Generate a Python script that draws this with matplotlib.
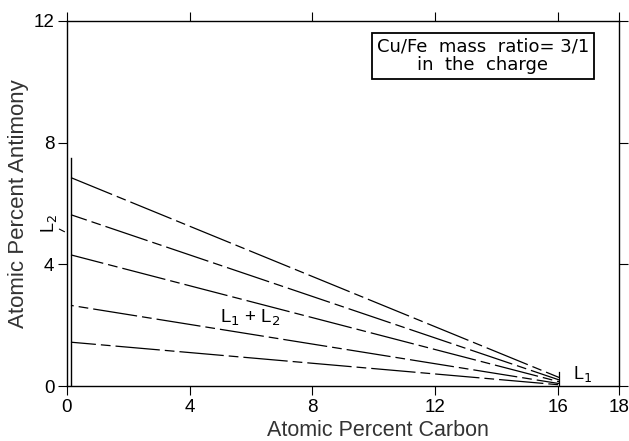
import matplotlib
matplotlib.use("Agg")
import matplotlib.pyplot as plt

# tie lines: start on the L2 side (x, y), end on the L1 side (x, y)
tie_x0 = [0.13, 0.13, 0.13, 0.13, 0.13]
tie_y0 = [6.85, 5.63, 4.31, 2.65, 1.44]
tie_x1 = [16.05, 16.05, 16.05, 16.05, 16.05]
tie_y1 = [0.28, 0.20, 0.14, 0.08, 0.04]
dash_offset = [0, 20, 8, 30, 14]

# L2 boundary (near the antimony axis) and L1 point
l2_x = [0.13, 0.13]
l2_y = [0.0, 7.5]
l1_x = [16.05, 16.05]
l1_y = [0.0, 0.45]

xticks = [0, 4, 8, 12, 16, 18]
yticks = [0, 4, 8, 12]

plt.rcParams["font.family"] = ["Liberation Sans", "DejaVu Sans"]
plt.rcParams["lines.scale_dashes"] = False

fig = plt.figure(figsize=(6.29, 4.41), dpi=100)
ax = fig.add_axes([0.1065, 0.1247, 0.8775, 0.8277])

for xa, ya, xb, yb, off in zip(tie_x0, tie_y0, tie_x1, tie_y1, dash_offset):
    ax.plot([xa, xb], [ya, yb], color="black", lw=0.9,
            linestyle=(off, (32, 3.6, 7, 3.6)))

ax.plot(l2_x, l2_y, color="black", lw=1.0)
ax.plot(l1_x, l1_y, color="black", lw=0.9)

ax.set_xlim(0, 18)
ax.set_ylim(0, 12)
ax.set_xticks(xticks)
ax.set_yticks(yticks)
ax.tick_params(direction="out", length=6.5, width=0.8, labelsize=13.5,
               top=True, right=True, pad=2.5)
for s in ax.spines.values():
    s.set_linewidth(1.0)

ax.set_xlabel("Atomic Percent Carbon", fontsize=15.5, color="#333333")
ax.xaxis.set_label_coords(0.563, -0.092)
ax.set_ylabel("Atomic Percent Antimony", fontsize=16, color="#333333",
              labelpad=3)

ax.text(5.0, 2.24, "L$_1$ + L$_2$", fontsize=13.5, ha="left", va="center")
ax.text(16.5, 0.08, "L$_1$", fontsize=13, ha="left", va="bottom")
ax.text(-0.6, 5.35, "L$_2$", fontsize=13, rotation=90,
        ha="center", va="center", clip_on=False)
ax.annotate("", xy=(0, 5.03), xytext=(-0.33, 5.2),
            arrowprops=dict(arrowstyle="-", lw=0.8, color="black"),
            annotation_clip=False)

ax.text(13.56, 10.85, "Cu/Fe  mass  ratio= 3/1\nin  the  charge",
        family="DejaVu Sans", fontsize=13, ha="center", va="center",
        linespacing=1.05,
        bbox=dict(boxstyle="square,pad=0.28", fc="white", ec="black", lw=1.3))

fig.savefig("out.png", dpi=100)
